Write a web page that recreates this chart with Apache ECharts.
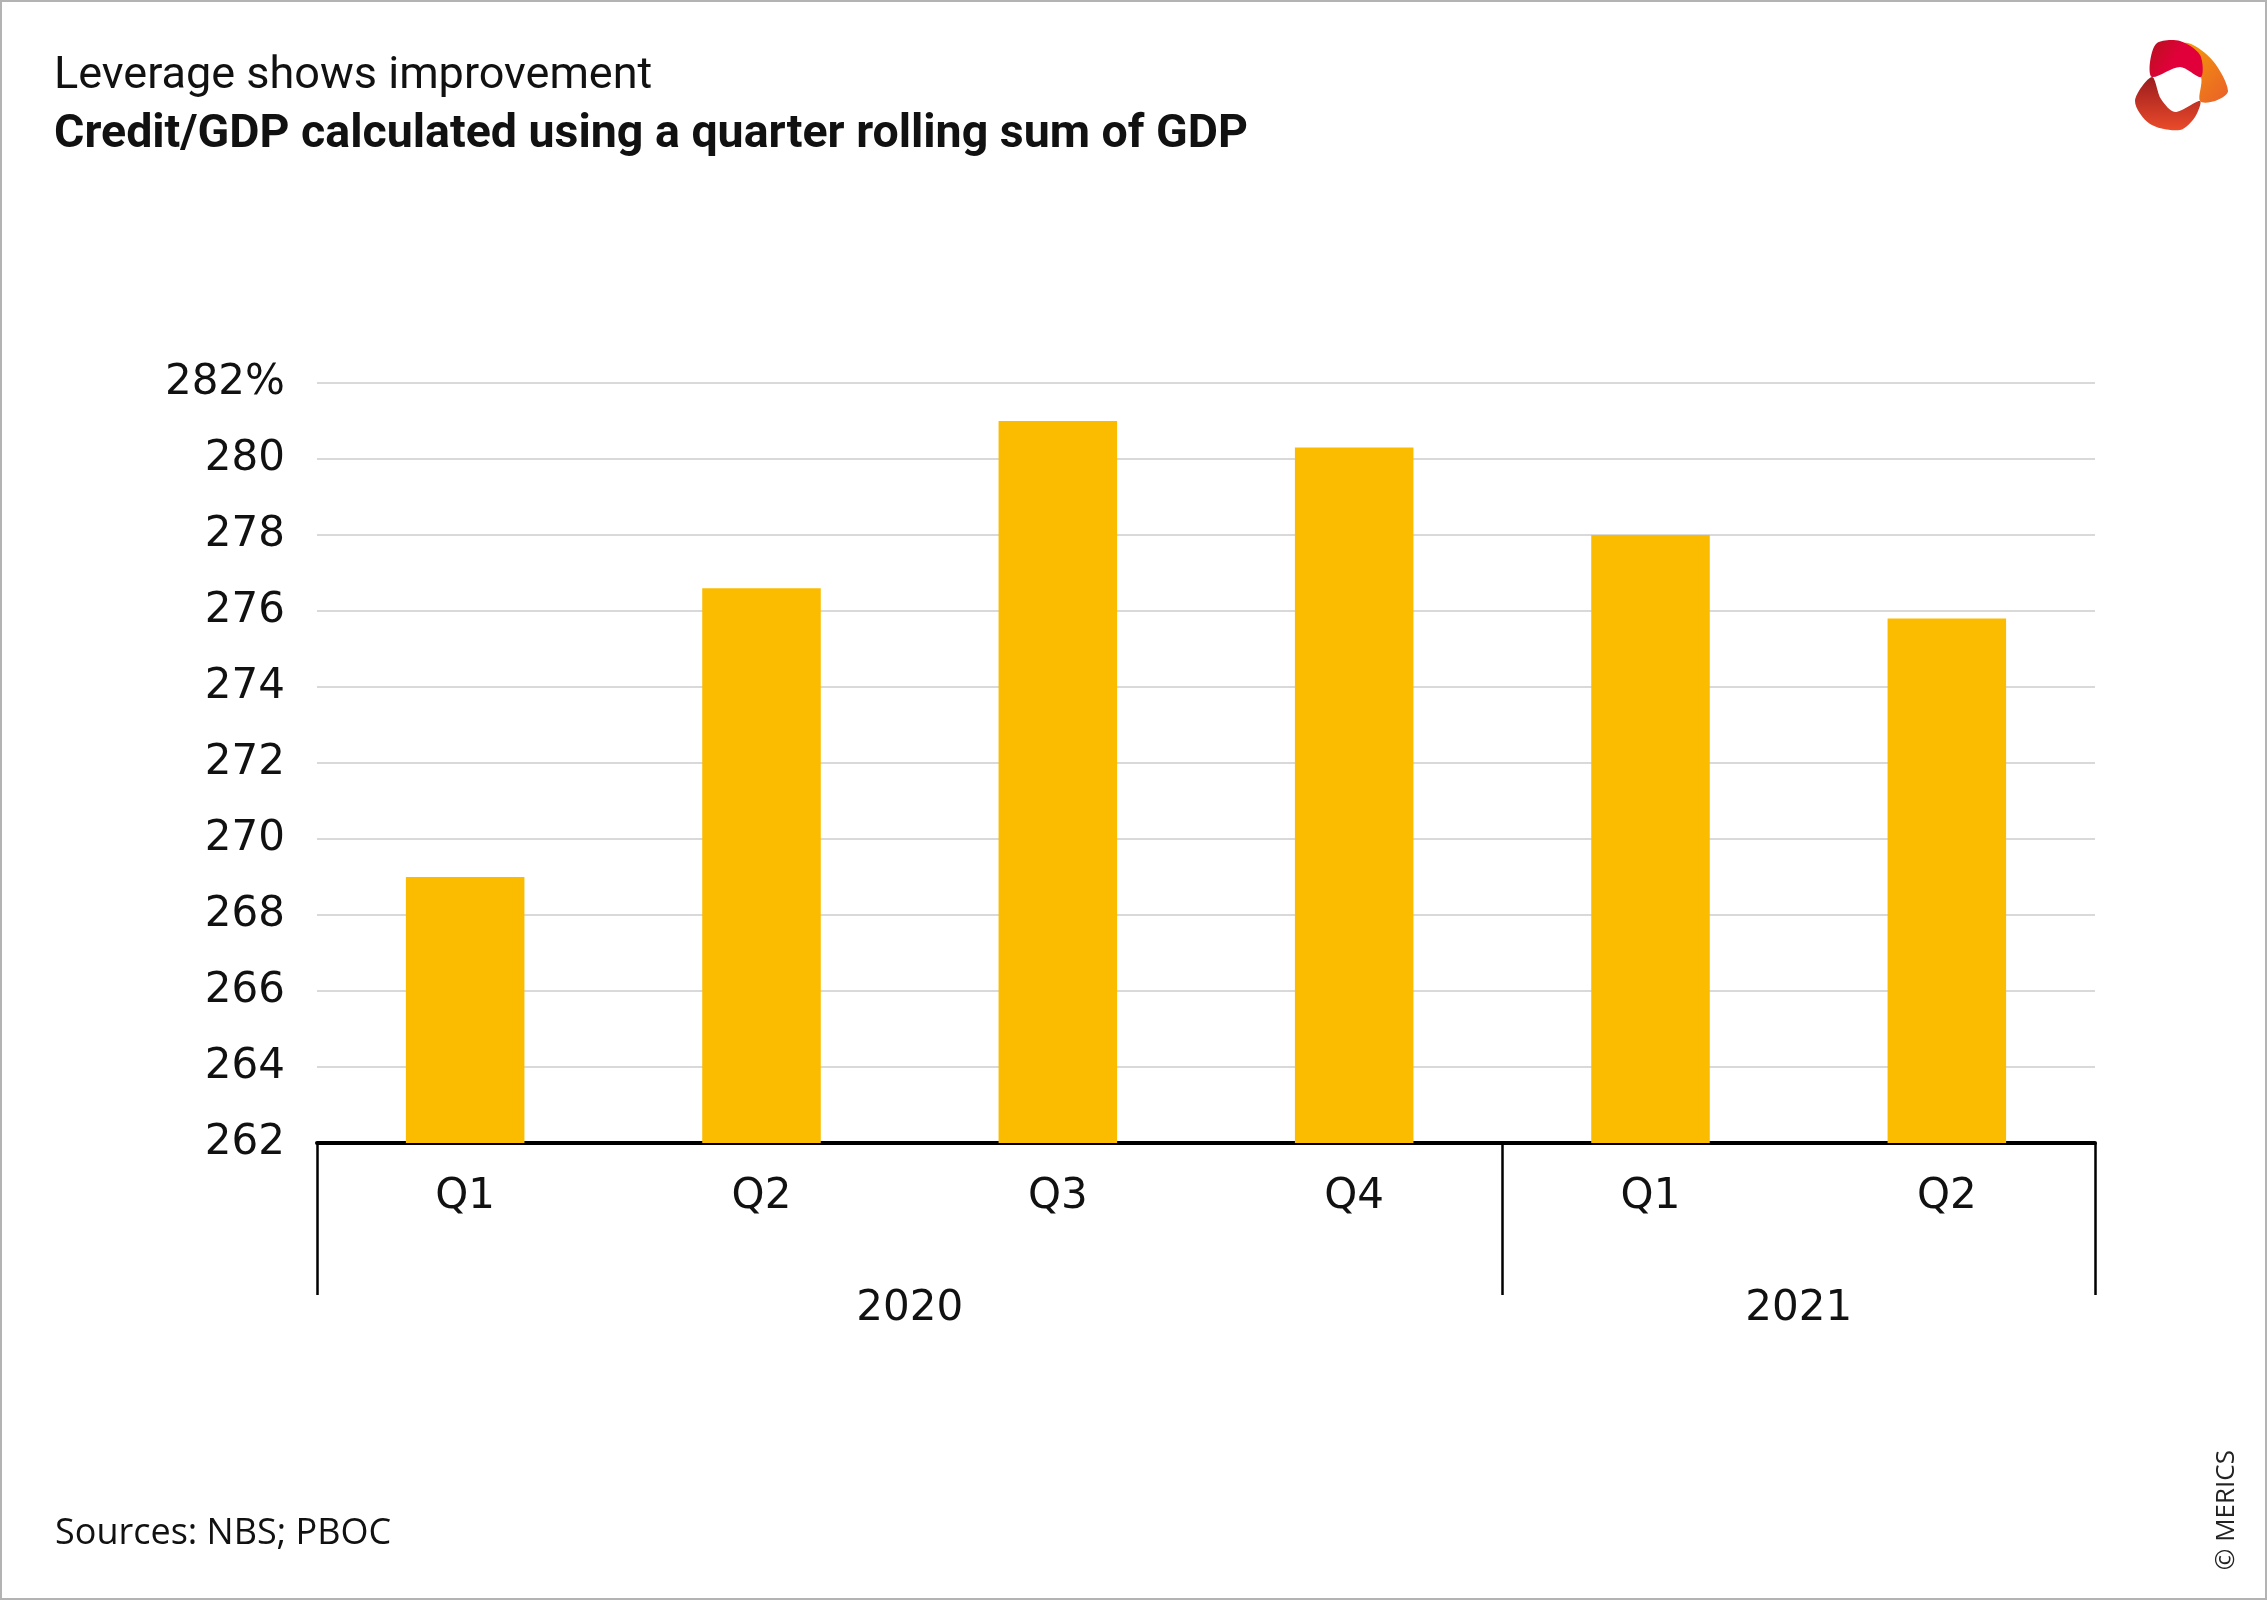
<!DOCTYPE html>
<html>
<head>
<meta charset="utf-8">
<script src="https://cdn.jsdelivr.net/npm/echarts@6/dist/echarts.min.js"></script>
<style>
  html, body { margin: 0; padding: 0; background: #fff; }
  #frame { width: 2267px; height: 1600px; box-sizing: border-box; border: 2px solid #b3b3b3; position: relative; }
  #chart { position: absolute; left: 0; top: 0; width: 2263px; height: 1596px; }
</style>
</head>
<body>
<div id="frame"><div id="chart"></div></div>
<script>
// ---- data ----
const quarters = ['Q1', 'Q2', 'Q3', 'Q4', 'Q1', 'Q2'];
const years = ['2020', '2021'];
const quartersPerYear = [4, 2];
const creditToGdp = [269.0, 276.6, 281.0, 280.3, 278.0, 275.8];
const yMin = 262, yMax = 282, yStep = 2;
const titleText = 'Leverage shows improvement';
const subtitleText = 'Credit/GDP calculated using a quarter rolling sum of GDP';
const sourceText = 'Sources: NBS; PBOC';
const creditText = '\u00A9 MERICS';

// derived year group boundaries and centers (in category units)
const yearBounds = [0];
quartersPerYear.forEach(n => yearBounds.push(yearBounds[yearBounds.length - 1] + n));
const yearCenters = years.map((y, i) => (yearBounds[i] + yearBounds[i + 1]) / 2);

const chart = echarts.init(document.getElementById('chart'), null, { renderer: 'canvas' });
const tickFont = 'DejaVu Sans';
const titleFont = 'Roboto';

const option = {
  backgroundColor: '#fff',
  animation: false,
  title: [
    { text: titleText, left: 47, top: 47,
      textStyle: { fontFamily: titleFont, fontSize: 45, fontWeight: 'normal', color: '#111' } },
    { text: subtitleText, left: 47, top: 105,
      textStyle: { fontFamily: titleFont, fontSize: 46.5, fontWeight: 'bold', color: '#111' } },
    { text: sourceText, left: 48, top: 1509,
      textStyle: { fontFamily: 'Open Sans', fontSize: 36, fontWeight: 'normal', color: '#111' } }
  ],
  grid: { left: 315, right: 170, top: 381, bottom: 455, containLabel: false },
  xAxis: [
    {
      type: 'category', data: quarters, position: 'bottom',
      axisLine: { show: true, lineStyle: { color: '#000', width: 4 } },
      axisTick: { show: false },
      axisLabel: { fontFamily: tickFont, fontSize: 42, color: '#111', margin: 33 },
      splitLine: { show: false }
    },
    {
      type: 'value', min: 0, max: quarters.length, position: 'bottom',
      axisLine: { show: false },
      axisTick: { show: true, inside: false, length: 152, customValues: yearBounds,
                  lineStyle: { color: '#000', width: 2.5 } },
      axisLabel: { show: true, customValues: yearCenters, margin: 145,
                   fontFamily: tickFont, fontSize: 42, color: '#111',
                   formatter: v => years[yearCenters.indexOf(v)] || '' },
      splitLine: { show: false }
    }
  ],
  yAxis: {
    type: 'value', min: yMin, max: yMax, interval: yStep,
    axisLine: { show: false }, axisTick: { show: false },
    axisLabel: { fontFamily: tickFont, fontSize: 42, color: '#111', margin: 32,
                 formatter: v => v === yMax ? v + '%' : String(v) },
    splitLine: { show: true, lineStyle: { color: '#d9d9d9', width: 2 } }
  },
  series: [{
    type: 'bar', xAxisIndex: 0, data: creditToGdp, barWidth: '40%',
    itemStyle: { color: '#fbbc00' }, z: 1
  }],
  graphic: [
    { type: 'text', left: 2212, top: 1448, rotation: Math.PI / 2,
      style: { text: creditText, fontFamily: 'Open Sans', fontSize: 26, fill: '#222' } },
    { type: 'group', left: 2133, top: 38, children: [
      { type: 'polygon', shape: { smooth: 0.3, points: [[30,10],[55,4],[80,22],[95,52],[82,62],[67,62],[68,38],[52,20]] },
        style: { fill: new echarts.graphic.LinearGradient(0, 0, 1, 1, [{offset: 0, color: '#f7a600'}, {offset: 1, color: '#e9602a'}]) } },
      { type: 'polygon', shape: { smooth: 0.3, points: [[17,23],[24,4],[47,2],[67,16],[68,38],[47,28],[19,38]] },
        style: { fill: new echarts.graphic.LinearGradient(0, 0, 1, 1, [{offset: 0, color: '#b5121b'}, {offset: 0.5, color: '#e2003b'}, {offset: 1, color: '#e2003b'}]) } },
      { type: 'polygon', shape: { smooth: 0.3, points: [[2,62],[19,38],[28,60],[42,73],[67,62],[62,78],[47,91],[17,85]] },
        style: { fill: new echarts.graphic.LinearGradient(0, 0, 0, 1, [{offset: 0, color: '#9b1b1e'}, {offset: 1, color: '#ea4b2a'}]) } }
    ]}
  ]
};
chart.setOption(option);
</script>
</body>
</html>
